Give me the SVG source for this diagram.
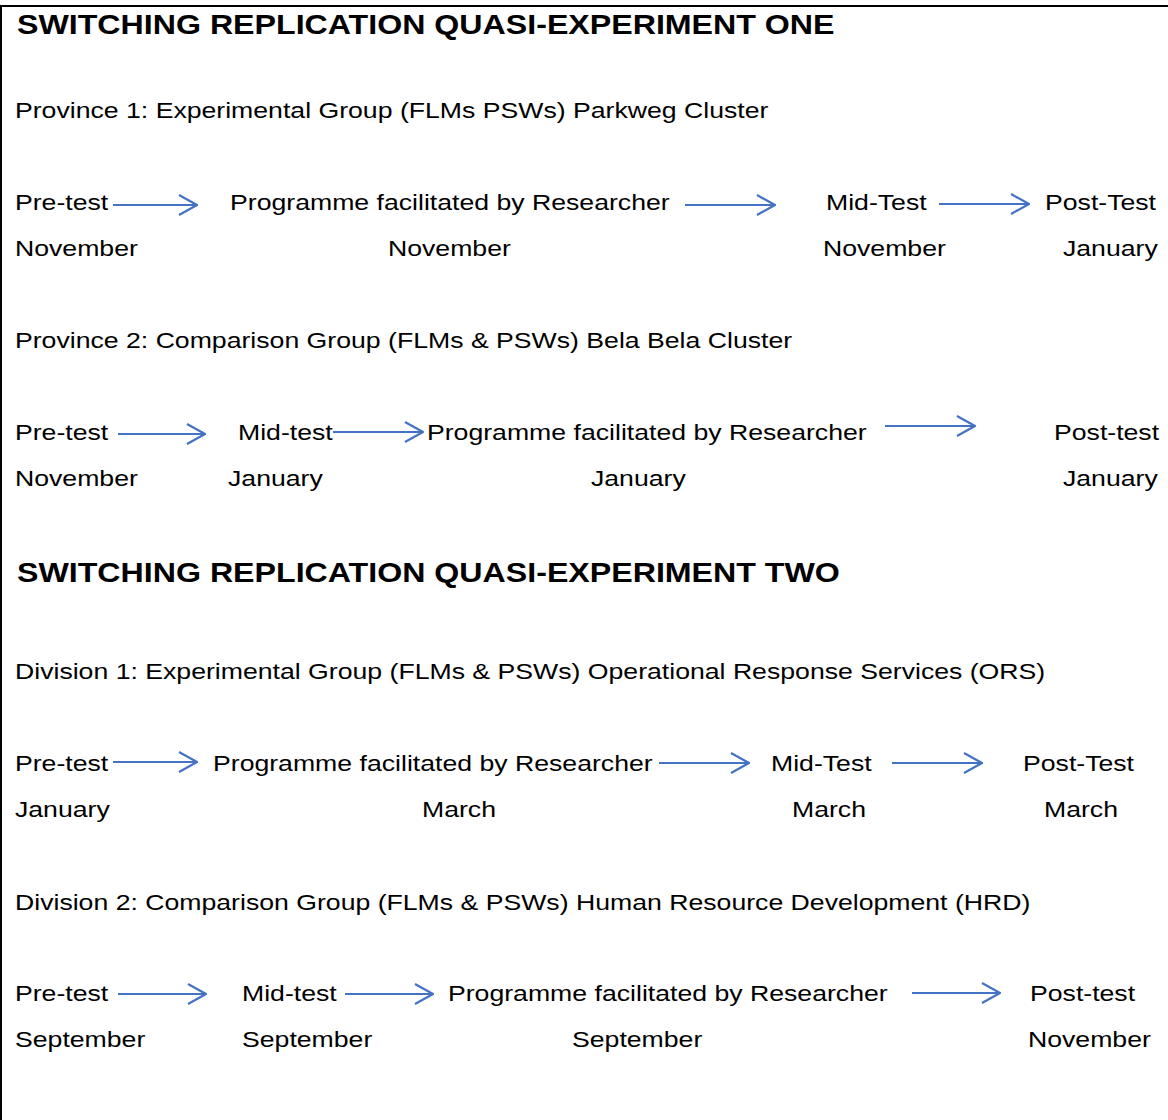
<svg xmlns="http://www.w3.org/2000/svg" width="1168" height="1120" viewBox="0 0 1168 1120">
<style>
.h{font-family:"Liberation Sans",Arial,sans-serif;font-weight:bold;font-size:26.8px;fill:#000}
.t{font-family:"Liberation Sans",Arial,sans-serif;font-size:22.2px;fill:#000}
.a{stroke:#4472C4;stroke-width:2;fill:none}
</style>
<defs>
<marker id="ah" viewBox="0 0 20 22" refX="19" refY="11" markerWidth="20" markerHeight="22" markerUnits="userSpaceOnUse" orient="auto">
<path d="M1,1 L19,11 L1,21" fill="none" stroke="#4472C4" stroke-width="2.2"/>
</marker>
</defs>
<rect width="1168" height="1120" fill="#fff"/>
<g id="frame"><path d="M1,1120 V6 H1168" fill="none" stroke="#000" stroke-width="2"/></g>

<g id="texts" transform="scale(1.2 1)">
<g id="exp1">
<text class="h" x="14.17" y="34.5">SWITCHING REPLICATION QUASI-EXPERIMENT ONE</text>
<text class="t" x="12.5" y="118">Province 1: Experimental Group (FLMs PSWs) Parkweg Cluster</text>
</g>
<g id="p1-pre"><text class="t" x="12.5" y="210">Pre-test</text><text class="t" x="12.5" y="256">November</text></g>
<g id="p1-prog"><text class="t" x="191.67" y="210">Programme facilitated by Researcher</text><text class="t" x="323.33" y="256">November</text></g>
<g id="p1-mid"><text class="t" x="688.33" y="210">Mid-Test</text><text class="t" x="685.83" y="256">November</text></g>
<g id="p1-post"><text class="t" x="870.83" y="210">Post-Test</text><text class="t" x="885.83" y="256">January</text></g>

<g id="p2-label"><text class="t" x="12.5" y="348">Province 2: Comparison Group (FLMs &amp; PSWs) Bela Bela Cluster</text></g>
<g id="p2-pre"><text class="t" x="12.5" y="440">Pre-test</text><text class="t" x="12.5" y="486">November</text></g>
<g id="p2-mid"><text class="t" x="198.33" y="440">Mid-test</text><text class="t" x="190" y="486">January</text></g>
<g id="p2-prog"><text class="t" x="355.83" y="440">Programme facilitated by Researcher</text><text class="t" x="492.5" y="486">January</text></g>
<g id="p2-post"><text class="t" x="878.33" y="440">Post-test</text><text class="t" x="885.83" y="486">January</text></g>

<g id="exp2">
<text class="h" x="14.17" y="582.5">SWITCHING REPLICATION QUASI-EXPERIMENT TWO</text>
<text class="t" x="12.5" y="679">Division 1: Experimental Group (FLMs &amp; PSWs) Operational Response Services (ORS)</text>
</g>
<g id="d1-pre"><text class="t" x="12.5" y="771">Pre-test</text><text class="t" x="12.5" y="817">January</text></g>
<g id="d1-prog"><text class="t" x="177.5" y="771">Programme facilitated by Researcher</text><text class="t" x="351.67" y="817">March</text></g>
<g id="d1-mid"><text class="t" x="642.5" y="771">Mid-Test</text><text class="t" x="660" y="817">March</text></g>
<g id="d1-post"><text class="t" x="852.5" y="771">Post-Test</text><text class="t" x="870" y="817">March</text></g>

<g id="d2-label"><text class="t" x="12.5" y="910">Division 2: Comparison Group (FLMs &amp; PSWs) Human Resource Development (HRD)</text></g>
<g id="d2-pre"><text class="t" x="12.5" y="1001">Pre-test</text><text class="t" x="12.5" y="1047">September</text></g>
<g id="d2-mid"><text class="t" x="201.67" y="1001">Mid-test</text><text class="t" x="201.67" y="1047">September</text></g>
<g id="d2-prog"><text class="t" x="373.33" y="1001">Programme facilitated by Researcher</text><text class="t" x="476.67" y="1047">September</text></g>
<g id="d2-post"><text class="t" x="858.33" y="1001">Post-test</text><text class="t" x="856.67" y="1047">November</text></g>
</g>

<g id="connectors">
<line class="a" x1="113" y1="205" x2="197" y2="205" marker-end="url(#ah)"/>
<line class="a" x1="685" y1="205" x2="775" y2="205" marker-end="url(#ah)"/>
<line class="a" x1="939" y1="204" x2="1029" y2="204" marker-end="url(#ah)"/>

<line class="a" x1="118" y1="434" x2="205" y2="434" marker-end="url(#ah)"/>
<line class="a" x1="333" y1="432" x2="423" y2="432" marker-end="url(#ah)"/>
<line class="a" x1="885" y1="426" x2="975" y2="426" marker-end="url(#ah)"/>

<line class="a" x1="113" y1="762" x2="197" y2="762" marker-end="url(#ah)"/>
<line class="a" x1="659" y1="763" x2="749" y2="763" marker-end="url(#ah)"/>
<line class="a" x1="892" y1="763" x2="982" y2="763" marker-end="url(#ah)"/>

<line class="a" x1="118" y1="994" x2="206" y2="994" marker-end="url(#ah)"/>
<line class="a" x1="345" y1="994" x2="433" y2="994" marker-end="url(#ah)"/>
<line class="a" x1="912" y1="993" x2="1000" y2="993" marker-end="url(#ah)"/>
</g>
</svg>
